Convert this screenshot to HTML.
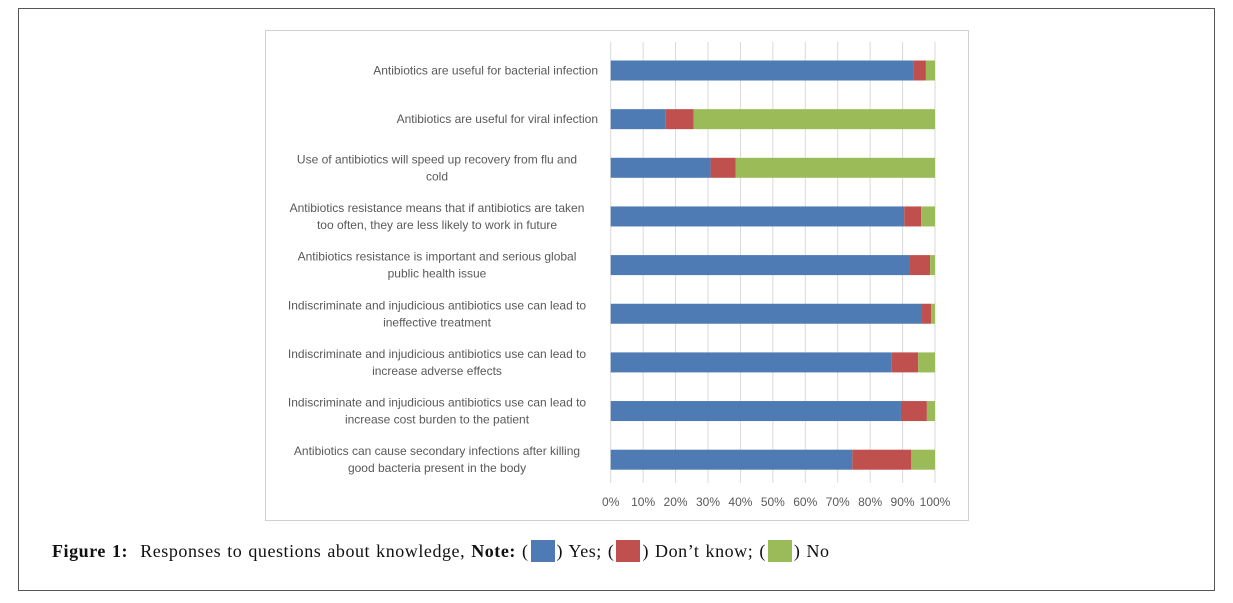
<!DOCTYPE html>
<html><head><meta charset="utf-8"><style>
body{margin:0;background:#fff;width:1233px;height:603px;position:relative;overflow:hidden;font-family:"Liberation Sans",sans-serif}
.outer{position:absolute;left:18px;top:8px;width:1197px;height:583px;border:1px solid #555;box-sizing:border-box}
.cap{position:absolute;left:52px;top:540px;font-family:"Liberation Serif",serif;font-size:18px;word-spacing:1px;letter-spacing:0.55px;color:#111;white-space:nowrap}
.sw{display:inline-block;width:24px;height:22px;vertical-align:-5px;margin:0 2px}
</style></head><body>
<div class="outer"></div>
<svg id="chart" width="1233" height="603" style="position:absolute;left:0;top:0">
<rect x="265.5" y="30.5" width="703" height="490" fill="#fff" stroke="#d0d0d0"/>
</svg>
<div class="cap"><b>Figure 1:</b>&nbsp; Responses to questions about knowledge, <b>Note:</b> (<span class="sw" style="background:#4e7bb4"></span>) Yes; (<span class="sw" style="background:#c0504d"></span>) Don’t know; (<span class="sw" style="background:#9bbb59"></span>) No</div>
<script>
const categories=[["Antibiotics are useful for bacterial infection"],["Antibiotics are useful for viral infection"],["Use of antibiotics will speed up recovery from flu and","cold"],["Antibiotics resistance means that if antibiotics are taken","too often, they are less likely to work in future"],["Antibiotics resistance is important and serious global","public health issue"],["Indiscriminate and injudicious antibiotics use can lead to","ineffective treatment"],["Indiscriminate and injudicious antibiotics use can lead to","increase adverse effects"],["Indiscriminate and injudicious antibiotics use can lead to","increase cost burden to the patient"],["Antibiotics can cause secondary infections after killing","good bacteria present in the body"]];
const yes=[93.5,17,30.8,90.5,92.3,96,86.5,89.5,74.5];
const dontKnow=[3.7,8.6,7.7,5.2,6.2,2.8,8.3,8,18.2];
const no=[2.8,74.4,61.5,4.3,1.5,1.2,5.2,2.5,7.3];
const ticks=[0,10,20,30,40,50,60,70,80,90,100];
const svg=document.getElementById('chart');const NS='http://www.w3.org/2000/svg';
const x=v=>610.7+v*3.243;
const y=i=>70.5+i*48.65;
function mk(t,a){const e=document.createElementNS(NS,t);for(const k in a)e.setAttribute(k,a[k]);svg.appendChild(e);return e;}
ticks.forEach(t=>{const g=mk('line',{x1:x(t),x2:x(t),y1:42,y2:483,stroke:'#d9d9d9','stroke-width':1});


const l=mk('text',{x:x(t),y:506,'text-anchor':'middle','font-size':12,fill:'#595959'});l.textContent=t+'%';

});
const cols=['#4e7bb4','#c0504d','#9bbb59'];const series=[yes,dontKnow,no];const names=['yes','dont-know','no'];
categories.forEach((c,i)=>{let acc=0;series.forEach((s,k)=>{const r=mk('rect',{x:x(acc),y:y(i)-10,width:x(acc+s[i])-x(acc),height:20,fill:cols[k]});

acc+=s[i];});
const n=c.length;c.forEach((line,j)=>{const t=mk('text',{x:437,y:y(i)+4+(j-(n-1)/2)*17,'text-anchor':'middle','font-size':12,fill:'#595959'});
if(n===1){t.setAttribute('x',598);t.setAttribute('text-anchor','end');}
t.textContent=line;

});});
</script>
</body></html>
